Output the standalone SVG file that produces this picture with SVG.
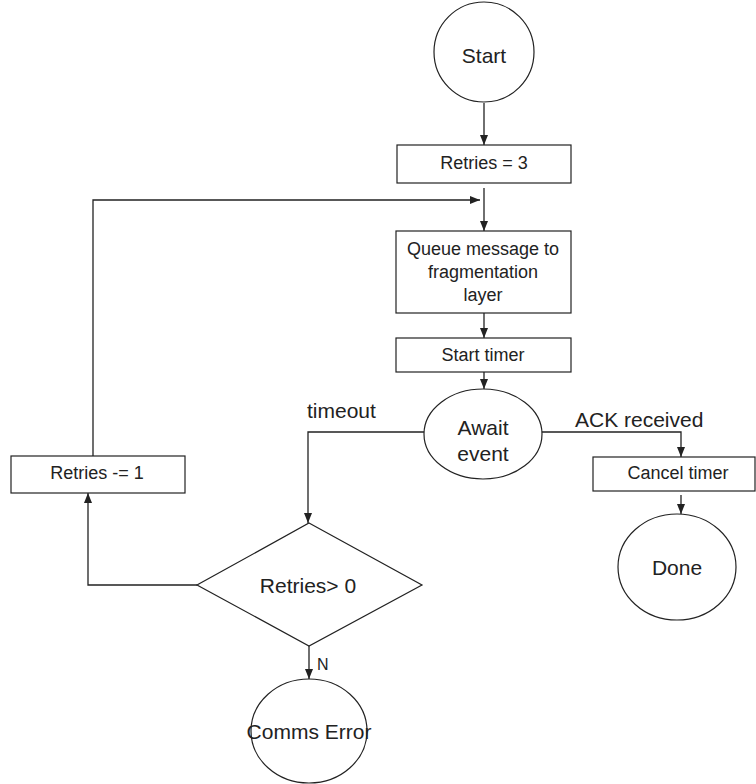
<svg xmlns="http://www.w3.org/2000/svg" width="756" height="784" viewBox="0 0 756 784">
<style>
.shape{fill:#fff;stroke:#222;stroke-width:1.2}
.conn{fill:none;stroke:#222;stroke-width:1.3}
text{font-family:"Liberation Sans",Arial,sans-serif;fill:#222;text-anchor:middle}
.big{font-size:21px}
.box{font-size:18px}
.lbl{font-size:21px;text-anchor:start}
</style>
<defs>
<marker id="arr" markerUnits="userSpaceOnUse" markerWidth="10" markerHeight="12" viewBox="0 0 10 8" refX="10" refY="4" orient="auto">
<path d="M0,0 L10,4 L0,8 Z" fill="#222"/>
</marker>
</defs>
<rect width="756" height="784" fill="#fff"/>
<g id="connectors">
<path class="conn" d="M484,103 V145" marker-end="url(#arr)"/>
<path class="conn" d="M484,188 V231" marker-end="url(#arr)"/>
<path class="conn" d="M93,456 V200 H480" marker-end="url(#arr)"/>
<path class="conn" d="M484,313 V338" marker-end="url(#arr)"/>
<path class="conn" d="M484,372 V389" marker-end="url(#arr)"/>
<path class="conn" d="M424,432 H308 V523" marker-end="url(#arr)"/>
<path class="conn" d="M542,432 H681 V457" marker-end="url(#arr)"/>
<path class="conn" d="M681,495 V514" marker-end="url(#arr)"/>
<path class="conn" d="M197,585 H88 V493" marker-end="url(#arr)"/>
<path class="conn" d="M309,646 V679" marker-end="url(#arr)"/>
<text class="lbl" x="307" y="418">timeout</text>
<text class="lbl" x="575" y="427">ACK received</text>
<text class="lbl" x="317" y="670" style="font-size:16px">N</text>
</g>
<g id="start">
<ellipse class="shape" cx="484" cy="52" rx="50" ry="50"/>
<text class="big" x="484" y="63">Start</text>
</g>
<g id="retries3">
<rect class="shape" x="397" y="145" width="174" height="38"/>
<text class="box" x="484" y="169">Retries = 3</text>
</g>
<g id="queue">
<rect class="shape" x="396" y="231" width="175" height="82"/>
<text class="box" x="483" y="255">Queue message to</text>
<text class="box" x="483" y="278">fragmentation</text>
<text class="box" x="483" y="301">layer</text>
</g>
<g id="starttimer">
<rect class="shape" x="396" y="338" width="175" height="34"/>
<text class="box" x="483" y="361">Start timer</text>
</g>
<g id="await">
<ellipse class="shape" cx="483" cy="434" rx="59" ry="45"/>
<text class="big" x="483" y="435">Await</text>
<text class="big" x="483" y="461">event</text>
</g>
<g id="canceltimer">
<rect class="shape" x="593" y="457" width="162" height="34"/>
<text class="box" x="678" y="479">Cancel timer</text>
</g>
<g id="done">
<ellipse class="shape" cx="677" cy="567" rx="59" ry="53"/>
<text class="big" x="677" y="575">Done</text>
</g>
<g id="retriesdec">
<rect class="shape" x="11" y="456" width="174" height="37"/>
<text class="box" x="97" y="479">Retries -= 1</text>
</g>
<g id="decision">
<polygon class="shape" points="309,523 422,585 309,646 197,585"/>
<text class="big" x="308" y="593">Retries&gt; 0</text>
</g>
<g id="commserror">
<ellipse class="shape" cx="309" cy="731" rx="58" ry="52"/>
<text class="big" x="309" y="739">Comms Error</text>
</g>
</svg>
